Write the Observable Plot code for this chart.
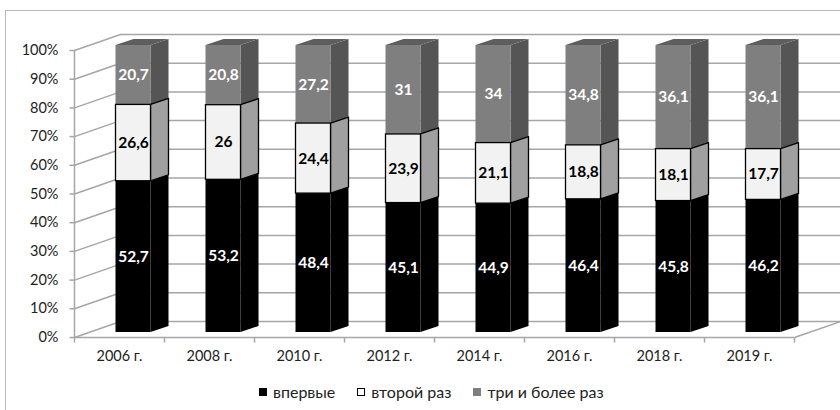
<!DOCTYPE html>
<html><head><meta charset="utf-8">
<script src="https://cdn.jsdelivr.net/npm/d3@7"></script>
<script src="https://cdn.jsdelivr.net/npm/@observablehq/plot@0.6"></script>
<style>
html,body{margin:0;padding:0;background:#fff;}
#wrap{position:relative;width:840px;height:410px;overflow:hidden;font-family:Lato,"Open Sans",sans-serif;}
#frame{position:absolute;left:5px;top:10px;width:900px;height:500px;border:1px solid #b8b8b8;box-sizing:border-box;}
#chart{position:absolute;left:0;top:0;}
#legend{position:absolute;left:259px;top:382px;display:flex;align-items:center;font-size:16px;color:#222;white-space:nowrap;}
#legend .it{display:flex;align-items:center;margin-right:22px;}
#legend .sw{display:inline-block;width:8px;height:8px;margin-right:6px;box-sizing:border-box;}
</style></head>
<body><div id="wrap"><div id="frame"></div><div id="chart"></div><div id="legend"></div></div>
<script>
const years = ["2006 г.", "2008 г.", "2010 г.", "2012 г.", "2014 г.", "2016 г.", "2018 г.", "2019 г."];
const seriesNames = ["впервые", "второй раз", "три и более раз"];
const first = [52.7, 53.2, 48.4, 45.1, 44.9, 46.4, 45.8, 46.2];
const second = [26.6, 26, 24.4, 23.9, 21.1, 18.8, 18.1, 17.7];
const third = [20.7, 20.8, 27.2, 31, 34, 34.8, 36.1, 36.1];
const yTicks = [0, 10, 20, 30, 40, 50, 60, 70, 80, 90, 100];

const W = 840, H = 375, ML = 74, MR = 46, MT = 50, MB = 38;
const N = years.length;
const ux = (W - ML - MR) / N, uy = (H - MT - MB) / 100;
// 3D geometry (pixels converted to data units)
const WX = 46 / ux, WY = 16 / uy;      // wall depth
const SX = 14 / ux, SY = 5 / uy;       // bar front offset
const DX = 18 / ux, DY = 6 / uy;       // bar depth
const HW = 17.5 / ux;                  // bar half width

const frontFill = ["#000000", "#f2f2f2", "#7f7f7f"];
const sideFill = ["#000000", "#a0a0a0", "#555555"];
const topFill = "#5e5e5e";
const labelFill = ["#ffffff", "#000000", "#ffffff"];
const gridColor = "#a6a6a6";

const all = [first, second, third];
const segs = [];
for (let i = 0; i < N; i++) {
  let acc = 0;
  for (let s = 0; s < 3; s++) {
    const v = all[s][i];
    segs.push({i, s, v, lo: acc, hi: acc + v, xl: i + 0.5 - HW + SX, xr: i + 0.5 + HW + SX});
    acc += v;
  }
}
const sidePts = [];
const topPts = [];
for (const d of segs) {
  const id = d.i + "-" + d.s;
  sidePts.push({id, s: d.s, x1: d.xr, y1: d.lo + SY, x2: d.xr, y2: d.hi + SY});
  sidePts.push({id, s: d.s, x1: d.xr + DX, y1: d.lo + SY + DY, x2: d.xr + DX, y2: d.hi + SY + DY});
  if (d.s === 2) {
    topPts.push({id, x1: d.xl, y1: d.hi + SY, x2: d.xr, y2: d.hi + SY});
    topPts.push({id, x1: d.xl + DX, y1: d.hi + SY + DY, x2: d.xr + DX, y2: d.hi + SY + DY});
  }
}
const bounds = d3.range(N + 1);
const fmt = v => String(v).replace(".", ",");

function barMarks(s) {
  const st = s === 1 ? {stroke: "#000", strokeWidth: 1.3} : {};
  const m = [
    Plot.area(sidePts.filter(d => d.s === s), {x1: "x1", y1: "y1", x2: "x2", y2: "y2", z: "id", fill: sideFill[s], ...st}),
    Plot.rect(segs.filter(d => d.s === s), {x1: "xl", x2: "xr", y1: d => d.lo + SY, y2: d => d.hi + SY, fill: frontFill[s], ...st})
  ];
  if (s === 2) m.push(Plot.area(topPts, {x1: "x1", y1: "y1", x2: "x2", y2: "y2", z: "id", fill: topFill}));
  return m;
}

const chart = Plot.plot({
  width: W, height: H,
  marginLeft: ML, marginRight: MR, marginTop: MT, marginBottom: MB,
  x: {domain: [0, N], axis: null},
  y: {domain: [0, 100], axis: null},
  style: {background: "transparent", overflow: "visible", fontFamily: "Lato, 'Open Sans', sans-serif"},
  marks: [
    // back wall gridlines
    Plot.link(yTicks, {x1: () => 0, y1: d => d, x2: () => WX, y2: d => d + WY, stroke: gridColor, strokeWidth: 1.5}),
    Plot.ruleY(yTicks, {y: d => d + WY, x1: () => WX, x2: () => N + WX, stroke: gridColor, strokeWidth: 1.5}),
    // floor edges and axis
    Plot.ruleY([0], {x1: () => 0, x2: () => N, stroke: gridColor, strokeWidth: 1.5}),
    Plot.link([0], {x1: () => N, y1: () => 0, x2: () => N + WX, y2: () => WY, stroke: gridColor, strokeWidth: 1.5}),
    Plot.ruleX([0], {y1: () => 0, y2: () => 100, stroke: gridColor, strokeWidth: 1.5}),
    Plot.link(yTicks, {x1: () => 0, x2: () => -5 / ux, y1: d => d, y2: d => d, stroke: gridColor, strokeWidth: 1.5}),
    Plot.link(bounds, {x1: d => d, x2: d => d, y1: () => 0, y2: () => -5 / uy, stroke: gridColor, strokeWidth: 1.5}),
    Plot.text(yTicks, {x: () => 0, y: d => d, text: d => d + "%", textAnchor: "end", dx: -16, fontSize: 14.5, fill: "#222"}),
    Plot.text(years, {x: (d, i) => i + 0.5, y: () => 0, text: d => d, dy: 19, fontSize: 14.5, fill: "#222"}),
    // bars
    ...barMarks(0), ...barMarks(2), ...barMarks(1),
    // value labels
    Plot.text(segs, {x: d => d.i + 0.5 + SX, y: d => (d.lo + d.hi) / 2 + SY, text: d => fmt(d.v), fill: d => labelFill[d.s], fontSize: 15.5, fontWeight: "bold"})
  ]
});
document.getElementById("chart").appendChild(chart);

const sw = [{bg: frontFill[0], border: "none"}, {bg: "#ffffff", border: "1px solid #000"}, {bg: frontFill[2], border: "none"}];
const leg = document.getElementById("legend");
seriesNames.forEach((n, k) => {
  const it = document.createElement("span"); it.className = "it";
  const s = document.createElement("span"); s.className = "sw";
  s.style.background = sw[k].bg; s.style.border = sw[k].border;
  const t = document.createElement("span"); t.textContent = n;
  it.appendChild(s); it.appendChild(t); leg.appendChild(it);
});
</script></body></html>
